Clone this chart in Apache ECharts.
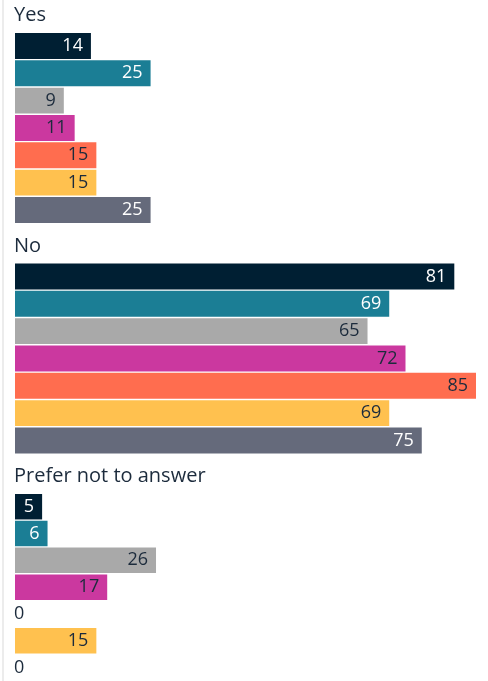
<!DOCTYPE html>
<html>
<head>
<meta charset="utf-8">
<script src="https://cdn.jsdelivr.net/npm/echarts@6/dist/echarts.min.js"></script>
<style>
  html, body { margin: 0; padding: 0; background: #ffffff; }
  #chart { width: 488px; height: 681px; }
</style>
</head>
<body>
<div id="chart"></div>
<script>
// Answer groups, drawn top to bottom
const answers = ['Yes', 'No', 'Prefer not to answer'];

// Respondent segments (one bar each, in every answer group)
const segments = ['Segment 1', 'Segment 2', 'Segment 3', 'Segment 4', 'Segment 5', 'Segment 6', 'Segment 7'];

// Percentages per answer group, in segment order
const yesValues = [14, 25, 9, 11, 15, 15, 25];
const noValues = [81, 69, 65, 72, 85, 69, 75];
const preferValues = [5, 6, 26, 17, 0, 15, 0];

const segmentColors = ['#001f33', '#1b7e95', '#a9a9a9', '#cb389f', '#ff6d4f', '#ffc14f', '#656a7b'];
const labelColors = ['#ffffff', '#ffffff', '#1c2b3c', '#1c2b3c', '#1c2b3c', '#1c2b3c', '#ffffff'];

const groupValues = [yesValues, noValues, preferValues];
const axisMax = 85;

const textColor = '#1c2b3c';
const fontFamily = 'Open Sans';
const labelSize = 18;

const gridTop0 = 32.3;
const groupPitch = 230.5;
const gridHeight = 191.3;

const grids = [], xAxes = [], yAxes = [], series = [], titles = [];

answers.forEach((answer, g) => {
  const top = gridTop0 + g * groupPitch;
  grids.push({ left: 15, right: 12, top: top, height: gridHeight });
  xAxes.push({ type: 'value', gridIndex: g, min: 0, max: axisMax, show: false });
  yAxes.push({ type: 'category', gridIndex: g, data: segments, inverse: true, show: false });
  titles.push({
    type: 'text',
    left: 14,
    top: top - 27,
    style: { text: answer, fill: textColor, fontFamily: fontFamily, fontSize: 20 }
  });
  series.push({
    type: 'bar',
    xAxisIndex: g,
    yAxisIndex: g,
    barCategoryGap: '5%',
    silent: true,
    animation: false,
    data: groupValues[g].map((v, i) => {
      const zero = v === 0;
      return {
        value: v,
        itemStyle: { color: segmentColors[i] },
        label: {
          show: true,
          position: zero ? 'right' : 'insideRight',
          distance: zero ? -1 : 8,
          color: zero ? textColor : labelColors[i],
          fontFamily: fontFamily,
          fontSize: labelSize
        }
      };
    })
  });
});

const chart = echarts.init(document.getElementById('chart'), null, { renderer: 'canvas' });
chart.setOption({
  animation: false,
  grid: grids,
  xAxis: xAxes,
  yAxis: yAxes,
  series: series,
  graphic: [
    { type: 'rect', left: 2, top: 0, shape: { width: 2, height: 681 }, style: { fill: '#ececec' } }
  ].concat(titles)
});
</script>
</body>
</html>
